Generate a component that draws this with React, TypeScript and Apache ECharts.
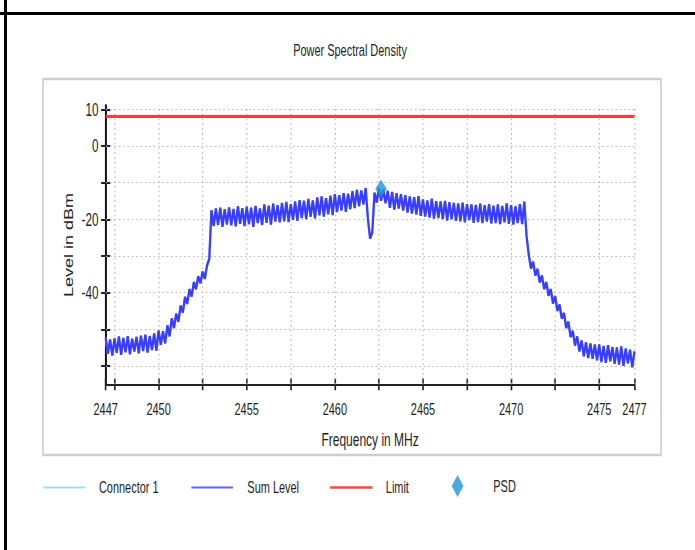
import React, { useEffect, useRef } from 'react';
import * as echarts from 'echarts';

const TITLE = 'Power Spectral Density';
const X_NAME = 'Frequency in MHz';
const Y_NAME = 'Level in dBm';
const LEGEND_NAMES = ['Connector 1', 'Sum Level', 'Limit', 'PSD'];

// Sum Level trace: one value every 0.125 MHz from 2447 MHz
const freqStart = 2447;
const freqStep = 0.125;
const sumLevel: number[] = [
  -52.3, -56.6, -52.8, -57.1, -52.5, -56.4, -52.0, -56.9,
  -52.4, -56.2, -51.9, -56.8, -52.6, -56.0, -52.1, -56.5,
  -51.8, -55.9, -51.5, -56.3, -51.9, -55.6, -51.2, -55.8,
  -50.4, -54.2, -50.6, -53.8, -49.0, -51.9, -47.1, -49.6,
  -45.8, -47.9, -43.6, -45.4, -41.2, -43.0, -39.1, -41.0,
  -37.2, -39.0, -35.6, -37.4, -34.3, -36.2, -32.6, -30.8,
  -17.6, -21.8, -17.1, -21.5, -16.9, -22.0, -17.3, -21.4,
  -16.8, -21.6, -17.2, -21.9, -16.5, -21.2, -17.0, -21.8,
  -16.6, -21.3, -16.9, -22.0, -16.4, -21.0, -17.1, -21.5,
  -16.0, -20.9, -16.3, -21.4, -15.8, -20.6, -16.2, -20.8,
  -15.6, -20.5, -15.3, -20.7, -15.9, -20.1, -15.2, -20.4,
  -14.8, -19.6, -15.0, -19.9, -14.5, -19.3, -14.9, -19.7,
  -14.1, -18.9, -13.8, -19.2, -14.3, -18.6, -13.6, -18.8,
  -13.2, -18.0, -13.5, -17.6, -12.9, -17.9, -13.1, -17.2,
  -12.4, -16.9, -12.0, -16.4, -12.2, -15.9, -11.5, -19.8,
  -25.2, -23.6, -12.8, -15.4, -11.5, -14.9, -11.9, -15.6,
  -12.3, -16.8, -12.6, -17.3, -12.9, -17.0, -13.2, -17.6,
  -13.5, -18.1, -13.8, -18.4, -14.0, -18.7, -13.7, -19.0,
  -14.6, -19.2, -14.9, -19.5, -14.4, -19.8, -15.1, -19.6,
  -15.2, -19.9, -15.0, -20.3, -15.4, -20.0, -15.6, -20.4,
  -15.7, -20.5, -15.5, -20.8, -15.9, -20.2, -16.0, -20.9,
  -16.1, -20.7, -15.8, -21.0, -16.2, -20.6, -15.9, -21.1,
  -16.3, -21.0, -16.0, -21.3, -16.4, -20.8, -15.7, -21.2,
  -16.2, -21.4, -16.5, -21.0, -15.9, -21.3, -15.2, -24.5,
  -29.6, -33.4, -31.6, -35.3, -33.6, -37.2, -35.4, -39.0,
  -37.2, -40.8, -39.1, -42.9, -41.0, -44.9, -43.3, -47.0,
  -45.6, -49.6, -48.0, -52.1, -50.5, -54.4, -52.0, -56.0,
  -53.1, -57.3, -53.6, -57.8, -53.9, -58.0, -54.2, -58.4,
  -54.2, -58.9, -54.6, -59.1, -54.4, -58.7, -54.9, -59.4,
  -55.0, -59.6, -54.7, -59.9, -55.3, -59.2, -55.6, -60.3,
  -56.0,
];

const limitFreq = [2447, 2477];
const limitLevel = [8, 8];
const psdFreq = [2462.62];
const psdLevel = [-11.7];

const xMin = 2447;
const xMax = 2477;
const yMin = -65;
const yMax = 11;
const xTicks = [2447, 2447.5, 2450, 2452.5, 2455, 2457.5, 2460, 2462.5, 2465, 2467.5, 2470, 2472.5, 2475, 2477];
const xLabels = [2447, 2450, 2455, 2460, 2465, 2470, 2475, 2477];
const xGrid = [2447.5, 2450, 2452.5, 2455, 2457.5, 2460, 2462.5, 2465, 2467.5, 2470, 2472.5, 2475, 2477];
const yTicks = [10, 0, -10, -20, -30, -40, -50, -60];
const yLabels = [10, 0, -20, -40];
const yGrid = [10, 0, -10, -20, -30, -40, -50, -60];

// The reference is a horizontally squeezed rendering; draw wide and squeeze.
const K = 0.66;
const W = 695 / K;
const H = 550;
const sx = (px: number) => px / K;

const FONT = '"Liberation Sans", Arial, Helvetica, sans-serif';
const TXT = '#1e1e1e';
const FS = 16.6;

export default function App() {
  const ref = useRef<HTMLDivElement>(null);

  useEffect(() => {
    if (!ref.current) return;
    const chart = echarts.init(ref.current, undefined, { renderer: 'svg' });

    const sumData = sumLevel.map((v, i) => [freqStart + i * freqStep, v]);
    const limitData = limitFreq.map((f, i) => [f, limitLevel[i]]);
    const psdData = psdFreq.map((f, i) => [f, psdLevel[i]]);

    const gridMarks = [
      ...xGrid.map((v) => ({ xAxis: v, lineStyle: { type: [1.6, 3.2], width: 1.6, color: '#b4b4b4' } })),
      ...yGrid.map((v) => ({ yAxis: v, lineStyle: { type: [2.2, 4.4], width: 1.1, color: '#b4b4b4' } })),
    ];

    const tickStyle = { color: '#222', width: 2.4 };

    const legendBase = {
      orient: 'horizontal',
      padding: 0,
      itemGap: 0,
      selectedMode: false,
      itemStyle: { opacity: 0, borderWidth: 0 },
    };
    const legendText = (pad: number) => ({
      fontSize: FS,
      color: TXT,
      fontFamily: FONT,
      padding: [0, 0, 0, pad],
    });

    const diamondW = sx(11.7);

    const option: any = {
      animation: false,
      textStyle: { fontFamily: FONT },
      title: {
        text: TITLE,
        left: sx(350),
        top: 41.5,
        textAlign: 'center',
        padding: 0,
        textStyle: { fontSize: FS, fontWeight: 'normal', color: TXT, fontFamily: FONT },
      },
      grid: {
        left: sx(105.7),
        right: W - sx(634.5),
        top: 105.6,
        bottom: H - 384.3,
        containLabel: false,
        outerBoundsMode: 'none',
      },
      xAxis: [
        {
          type: 'value',
          min: xMin,
          max: xMax,
          position: 'bottom',
          name: X_NAME,
          nameLocation: 'middle',
          nameGap: 46,
          nameTextStyle: { fontSize: 18.2, color: TXT, fontFamily: FONT },
          axisLine: { show: true, onZero: false, lineStyle: { color: '#222', width: 2 } },
          axisTick: { show: true, customValues: xTicks, length: 6, lineStyle: tickStyle },
          axisLabel: {
            show: true,
            customValues: xLabels,
            margin: 16,
            fontSize: FS,
            color: TXT,
            fontFamily: FONT,
            formatter: (v: number) => String(v),
          },
          splitLine: { show: false },
        },
        {
          type: 'value',
          min: xMin,
          max: xMax,
          position: 'bottom',
          axisLine: { show: false, onZero: false },
          axisTick: { show: true, inside: true, customValues: xTicks, length: 6, lineStyle: tickStyle },
          axisLabel: { show: false },
          splitLine: { show: false },
        },
      ],
      yAxis: [
        {
          type: 'value',
          min: yMin,
          max: yMax,
          position: 'left',
          name: Y_NAME,
          nameLocation: 'middle',
          nameGap: 35.5,
          nameTextStyle: { fontSize: 18, color: TXT, fontFamily: FONT },
          axisLine: { show: true, onZero: false, lineStyle: { color: '#111', width: 3 } },
          axisTick: { show: true, customValues: yTicks, length: 7, lineStyle: { color: '#222', width: 2 } },
          axisLabel: {
            show: true,
            customValues: yLabels,
            margin: 11,
            fontSize: 17.7,
            color: TXT,
            fontFamily: FONT,
            formatter: (v: number) => String(v),
          },
          splitLine: { show: false },
        },
        {
          type: 'value',
          min: yMin,
          max: yMax,
          position: 'left',
          axisLine: { show: false, onZero: false },
          axisTick: { show: true, inside: true, customValues: yTicks, length: 7, lineStyle: { color: '#222', width: 2 } },
          axisLabel: { show: false },
          splitLine: { show: false },
        },
      ],
      legend: [
        {
          ...legendBase,
          data: [LEGEND_NAMES[0]],
          left: sx(42.7),
          top: 479,
          itemWidth: sx(85) - sx(42.7),
          itemHeight: 14,
          lineStyle: { width: 2, color: '#a6dbf8' },
          textStyle: legendText(sx(98.3) - sx(85) - 5),
        },
        {
          ...legendBase,
          data: [LEGEND_NAMES[1]],
          left: sx(190.7),
          top: 479,
          itemWidth: sx(232.3) - sx(190.7),
          itemHeight: 14,
          lineStyle: { width: 2, color: '#6464ff' },
          textStyle: legendText(sx(246.7) - sx(232.3) - 5),
        },
        {
          ...legendBase,
          data: [LEGEND_NAMES[2]],
          left: sx(329.3),
          top: 479,
          itemWidth: sx(371.7) - sx(329.3),
          itemHeight: 14,
          lineStyle: { width: 2.4, color: '#ff4444' },
          textStyle: legendText(sx(385) - sx(371.7) - 5),
        },
        {
          ...legendBase,
          itemStyle: {},
          data: [{ name: LEGEND_NAMES[3], icon: 'diamond' }],
          left: sx(451.7),
          top: 475,
          itemWidth: diamondW,
          itemHeight: 22,
          symbolKeepAspect: false,
          textStyle: legendText(sx(493.3) - sx(451.7) - diamondW - 5),
        },
      ],
      graphic: [
        {
          type: 'rect',
          silent: true,
          z: -10,
          shape: { x: sx(43), y: 79, width: sx(661) - sx(43), height: 455 - 79 },
          style: { fill: 'none', stroke: '#cdcdcd', lineWidth: 2.4 },
        },
      ],
      series: [
        {
          name: 'grid',
          type: 'line',
          data: [],
          z: 1,
          silent: true,
          markLine: {
            silent: true,
            z: 1,
            symbol: ['none', 'none'],
            label: { show: false },
            emphasis: { disabled: true },
            data: gridMarks,
          },
        },
        {
          name: LEGEND_NAMES[0],
          type: 'line',
          data: sumData,
          z: 2,
          showSymbol: false,
          symbol: 'none',
          color: '#a3d8f7',
          lineStyle: { color: '#a3d8f7', width: 3.4 },
        },
        {
          name: LEGEND_NAMES[1],
          type: 'line',
          data: sumData,
          z: 3,
          showSymbol: false,
          symbol: 'none',
          color: '#5a5aff',
          lineStyle: { color: '#3c3cff', width: 3.4 },
        },
        {
          name: LEGEND_NAMES[2],
          type: 'line',
          data: limitData,
          z: 4,
          showSymbol: false,
          symbol: 'none',
          color: '#ff4040',
          lineStyle: { color: '#ff3838', width: 3 },
        },
        {
          name: LEGEND_NAMES[3],
          type: 'scatter',
          data: psdData,
          z: 5,
          symbol: 'diamond',
          symbolSize: [sx(11.5), 18],
          color: '#1a96d4',
          itemStyle: { color: '#1a96d4' },
        },
      ],
    };

    chart.setOption(option);
    return () => chart.dispose();
  }, []);

  return (
    <div style={{ position: 'absolute', left: 0, top: 0, width: 695, height: 550, overflow: 'hidden', background: '#fff' }}>
      <div style={{ position: 'absolute', left: 0, top: 12, width: 695, height: 2.6, background: '#000' }} />
      <div style={{ position: 'absolute', left: 4.3, top: 0, width: 2.8, height: 550, background: '#000' }} />
      <div
        ref={ref}
        style={{
          position: 'absolute',
          left: 0,
          top: 0,
          width: W,
          height: H,
          transform: `scaleX(${K})`,
          transformOrigin: '0 0',
        }}
      />
    </div>
  );
}
